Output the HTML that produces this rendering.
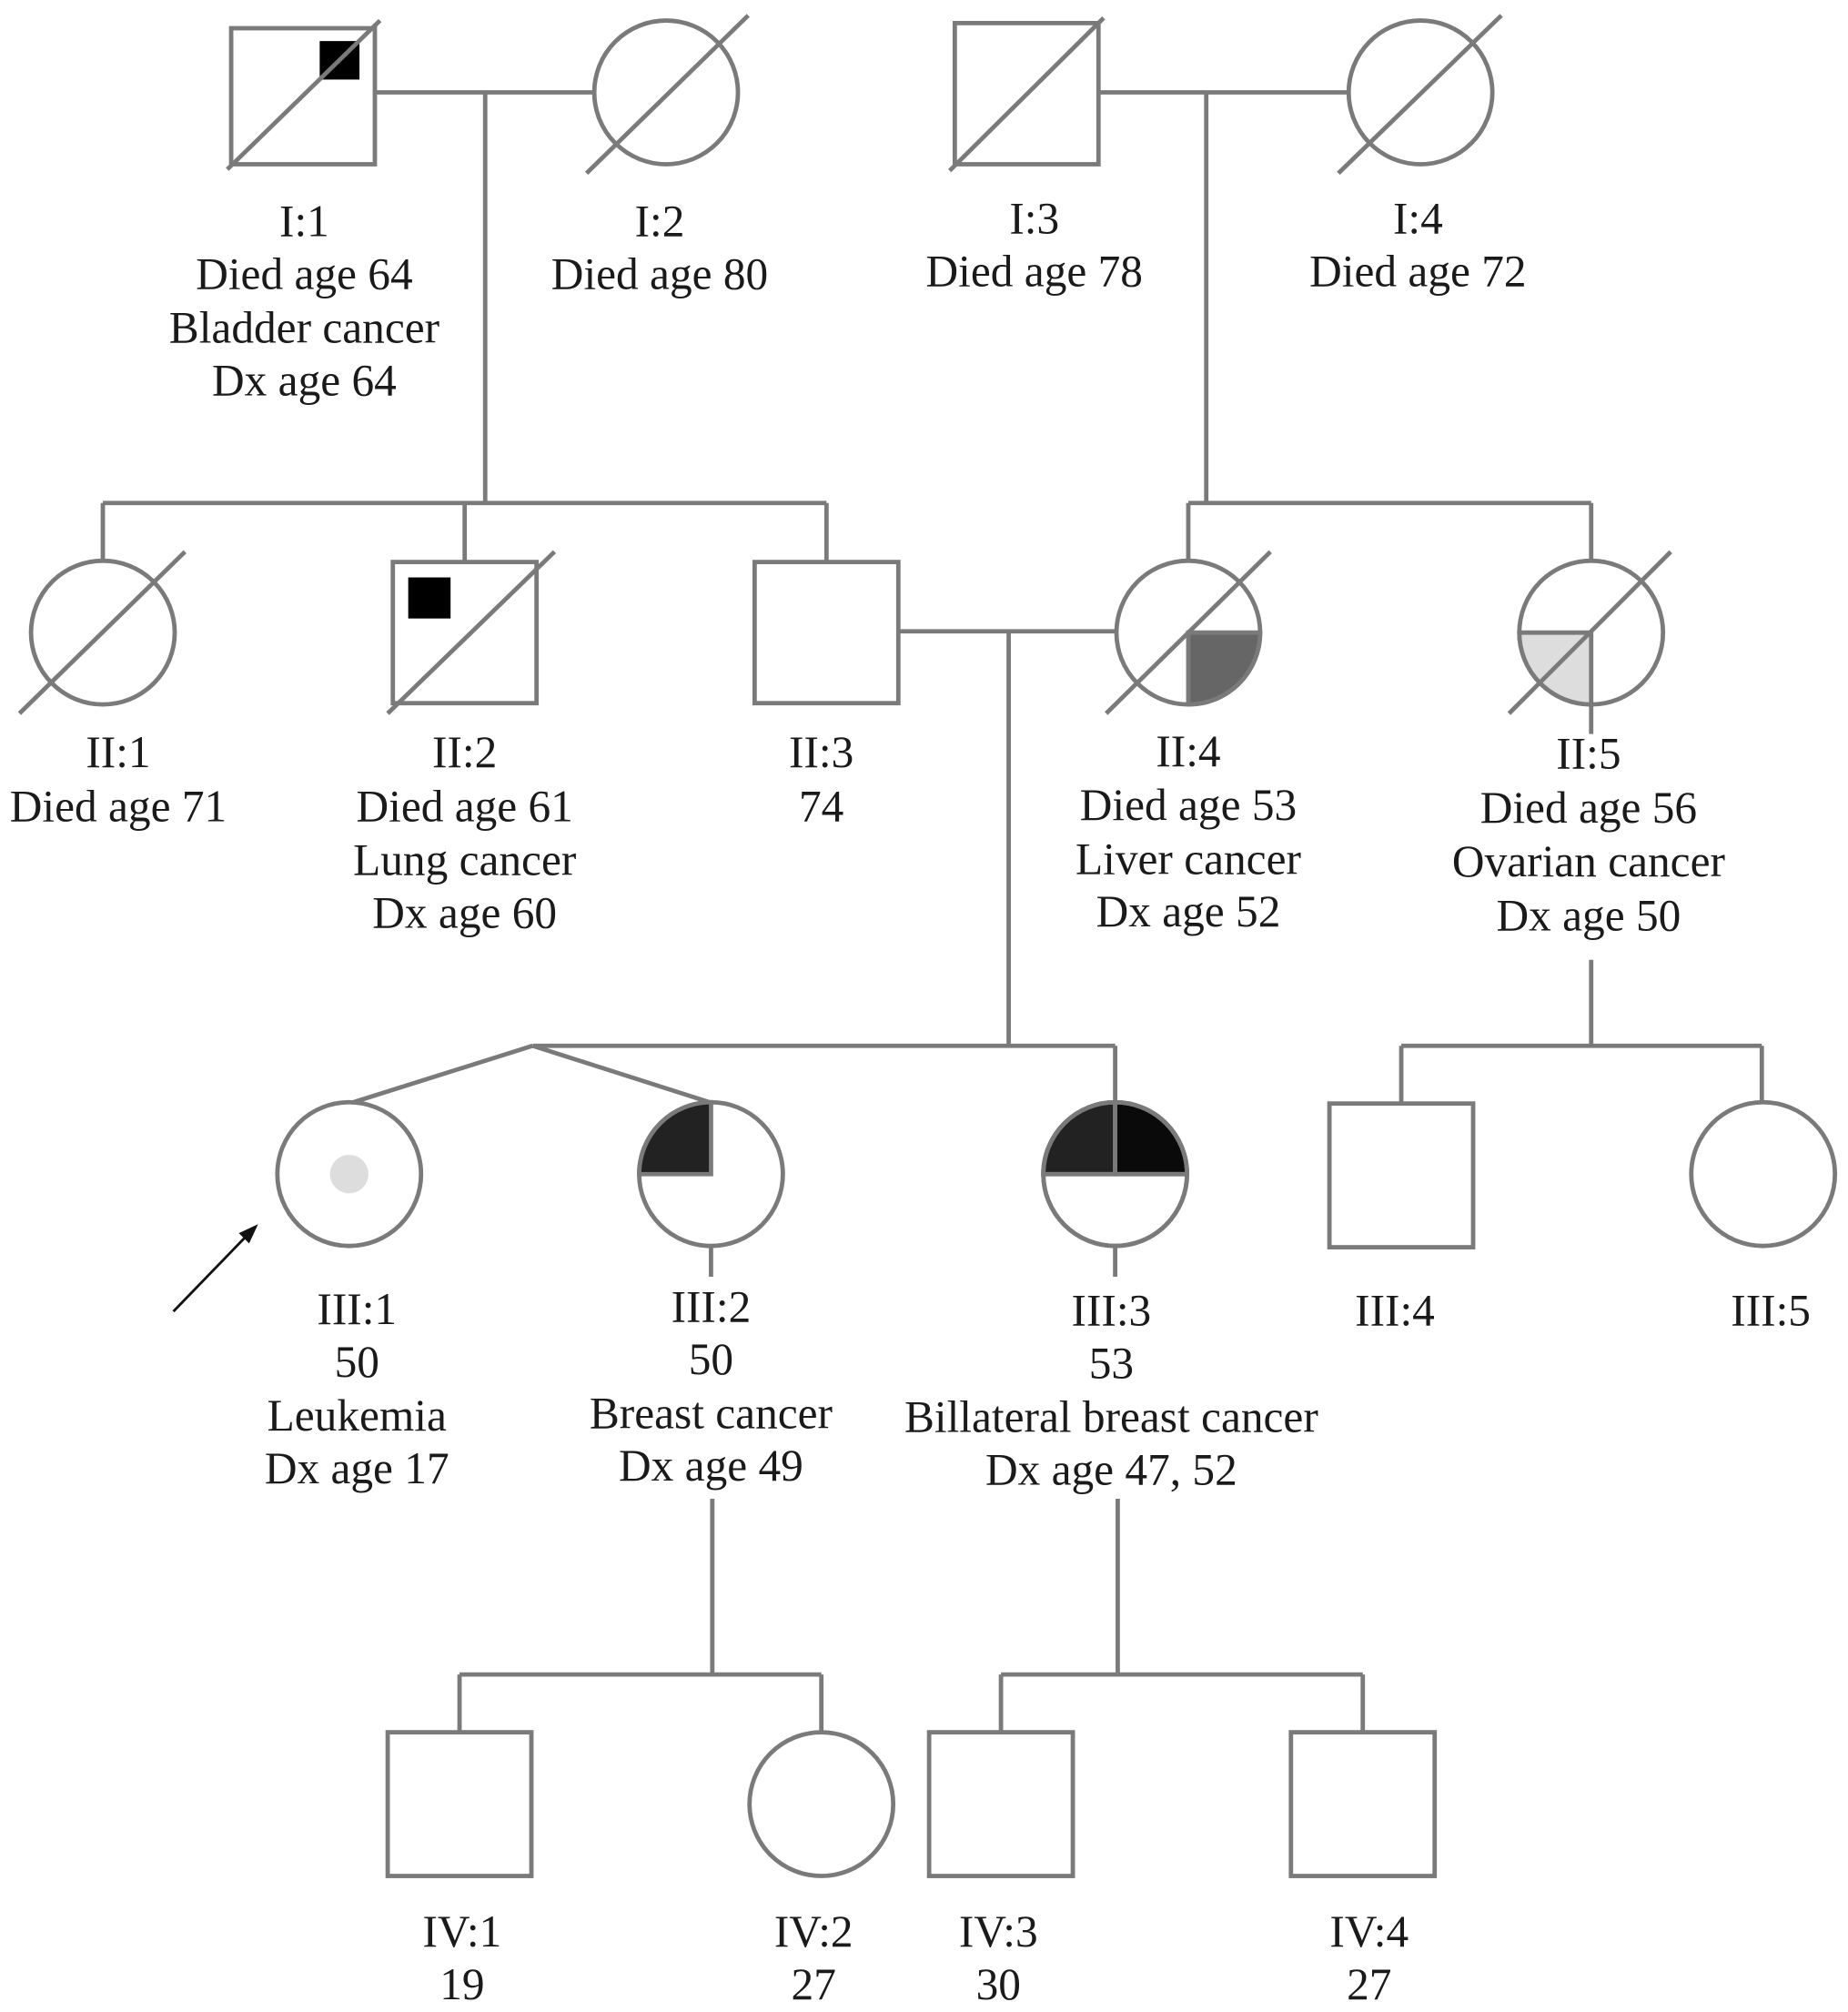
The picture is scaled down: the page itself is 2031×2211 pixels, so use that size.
<!DOCTYPE html>
<html><head><meta charset="utf-8"><style>
html,body{margin:0;padding:0;background:#fff;}
svg{display:block;}
text{font-family:"Liberation Serif",serif;font-size:35px;fill:#1a1a1a;text-anchor:middle;}
</style></head><body>
<svg width="2031" height="2211" viewBox="0 0 1440 1568" xmlns="http://www.w3.org/2000/svg">
<g stroke="#7a7a7a" stroke-width="3.4" fill="none">
<rect x="180" y="22" width="112" height="106" fill="#fff"/>
<rect x="249" y="32" width="31" height="30" fill="#000" stroke="none"/>
<line x1="177" y1="132" x2="296" y2="16"/>
<line x1="292" y1="72" x2="463" y2="72"/>
<line x1="378" y1="72" x2="378" y2="392"/>
<circle cx="519" cy="72" r="56" fill="#fff"/>
<line x1="457" y1="135" x2="583" y2="12"/>
<rect x="744" y="18" width="112" height="110" fill="#fff"/>
<line x1="740" y1="133" x2="860" y2="14"/>
<line x1="856" y1="72" x2="1051" y2="72"/>
<line x1="940" y1="72" x2="940" y2="392"/>
<circle cx="1107" cy="72" r="56" fill="#fff"/>
<line x1="1043" y1="135" x2="1170" y2="12"/>
<line x1="80" y1="392" x2="644" y2="392"/>
<line x1="80" y1="392" x2="80" y2="438"/>
<line x1="362" y1="392" x2="362" y2="438"/>
<line x1="644" y1="392" x2="644" y2="438"/>
<line x1="926" y1="392" x2="1240" y2="392"/>
<line x1="926" y1="392" x2="926" y2="438"/>
<line x1="1240" y1="392" x2="1240" y2="438"/>
<circle cx="80" cy="493" r="56" fill="#fff"/>
<line x1="15" y1="556" x2="144" y2="430"/>
<rect x="306" y="438" width="112" height="110" fill="#fff"/>
<rect x="318" y="450" width="33" height="32" fill="#000" stroke="none"/>
<line x1="302" y1="556" x2="432" y2="430"/>
<rect x="588" y="438" width="112" height="110" fill="#fff"/>
<line x1="700" y1="492" x2="870" y2="492"/>
<line x1="786" y1="492" x2="786" y2="815"/>
<circle cx="926" cy="493" r="56" fill="#fff"/>
<path d="M926 493 L982 493 A56 56 0 0 1 926 549 Z" fill="#666"/>
<line x1="862" y1="556" x2="990" y2="430"/>
<circle cx="1240" cy="493" r="56" fill="#fff"/>
<path d="M1240 493 L1240 549 A56 56 0 0 1 1184 493 Z" fill="#ddd"/>
<line x1="1240" y1="549" x2="1240" y2="572"/>
<line x1="1176" y1="556" x2="1302" y2="430"/>
<line x1="1240" y1="748" x2="1240" y2="815"/>
<line x1="1092" y1="815" x2="1373" y2="815"/>
<line x1="1092" y1="815" x2="1092" y2="860"/>
<line x1="1373" y1="815" x2="1373" y2="860"/>
<line x1="415" y1="815" x2="869" y2="815"/>
<line x1="415" y1="815" x2="272" y2="860"/>
<line x1="415" y1="815" x2="556" y2="860"/>
<line x1="869" y1="815" x2="869" y2="860"/>
<circle cx="272" cy="915" r="56" fill="#fff"/>
<circle cx="272" cy="915" r="15" fill="#ddd" stroke="none"/>
<circle cx="554" cy="915" r="56" fill="#fff"/>
<path d="M554 915 L498 915 A56 56 0 0 1 554 859 Z" fill="#222"/>
<line x1="554" y1="971" x2="554" y2="995"/>
<circle cx="869" cy="915" r="56" fill="#fff"/>
<path d="M869 915 L813 915 A56 56 0 0 1 869 859 Z" fill="#222"/>
<path d="M869 915 L925 915 A56 56 0 0 0 869 859 Z" fill="#0a0a0a"/>
<line x1="813" y1="915" x2="925" y2="915"/>
<line x1="869" y1="859" x2="869" y2="915"/>
<circle cx="869" cy="915" r="56"/>
<line x1="869" y1="971" x2="869" y2="995"/>
<rect x="1036" y="860" width="112" height="112" fill="#fff"/>
<circle cx="1374" cy="915" r="56" fill="#fff"/>
<line x1="555" y1="1168" x2="555" y2="1305"/>
<line x1="871" y1="1168" x2="871" y2="1305"/>
<line x1="358" y1="1305" x2="640" y2="1305"/>
<line x1="358" y1="1305" x2="358" y2="1350"/>
<line x1="640" y1="1305" x2="640" y2="1350"/>
<line x1="780" y1="1305" x2="1062" y2="1305"/>
<line x1="780" y1="1305" x2="780" y2="1350"/>
<line x1="1062" y1="1305" x2="1062" y2="1350"/>
<rect x="302" y="1350" width="112" height="112" fill="#fff"/>
<circle cx="640" cy="1406" r="56" fill="#fff"/>
<rect x="724" y="1350" width="112" height="112" fill="#fff"/>
<rect x="1006" y="1350" width="112" height="112" fill="#fff"/>
</g>
<line x1="135" y1="1022" x2="196" y2="959" stroke="#111" stroke-width="2"/>
<path d="M201 954 L186 961 L194 969 Z" fill="#111"/>
<text x="237" y="184">I:1</text><text x="237" y="225">Died age 64</text><text x="237" y="267">Bladder cancer</text><text x="237" y="308">Dx age 64</text>
<text x="514" y="184">I:2</text><text x="514" y="225">Died age 80</text>
<text x="806" y="182">I:3</text><text x="806" y="223">Died age 78</text>
<text x="1105" y="182">I:4</text><text x="1105" y="223">Died age 72</text>
<text x="92" y="598">II:1</text><text x="92" y="640">Died age 71</text>
<text x="362" y="598">II:2</text><text x="362" y="640">Died age 61</text><text x="362" y="682">Lung cancer</text><text x="362" y="723">Dx age 60</text>
<text x="640" y="598">II:3</text><text x="640" y="640">74</text>
<text x="926" y="597">II:4</text><text x="926" y="639">Died age 53</text><text x="926" y="681">Liver cancer</text><text x="926" y="722">Dx age 52</text>
<text x="1238" y="599">II:5</text><text x="1238" y="641">Died age 56</text><text x="1238" y="683">Ovarian cancer</text><text x="1238" y="725">Dx age 50</text>
<text x="278" y="1032">III:1</text><text x="278" y="1073">50</text><text x="278" y="1115">Leukemia</text><text x="278" y="1156">Dx age 17</text>
<text x="554" y="1030">III:2</text><text x="554" y="1071">50</text><text x="554" y="1113">Breast cancer</text><text x="554" y="1154">Dx age 49</text>
<text x="866" y="1033">III:3</text><text x="866" y="1074">53</text><text x="866" y="1116">Billateral breast cancer</text><text x="866" y="1157">Dx age 47, 52</text>
<text x="1087" y="1033">III:4</text><text x="1380" y="1033">III:5</text>
<text x="360" y="1517">IV:1</text><text x="360" y="1558">19</text>
<text x="634" y="1517">IV:2</text><text x="634" y="1558">27</text>
<text x="778" y="1517">IV:3</text><text x="778" y="1558">30</text>
<text x="1067" y="1517">IV:4</text><text x="1067" y="1558">27</text>
</svg>
</body></html>
